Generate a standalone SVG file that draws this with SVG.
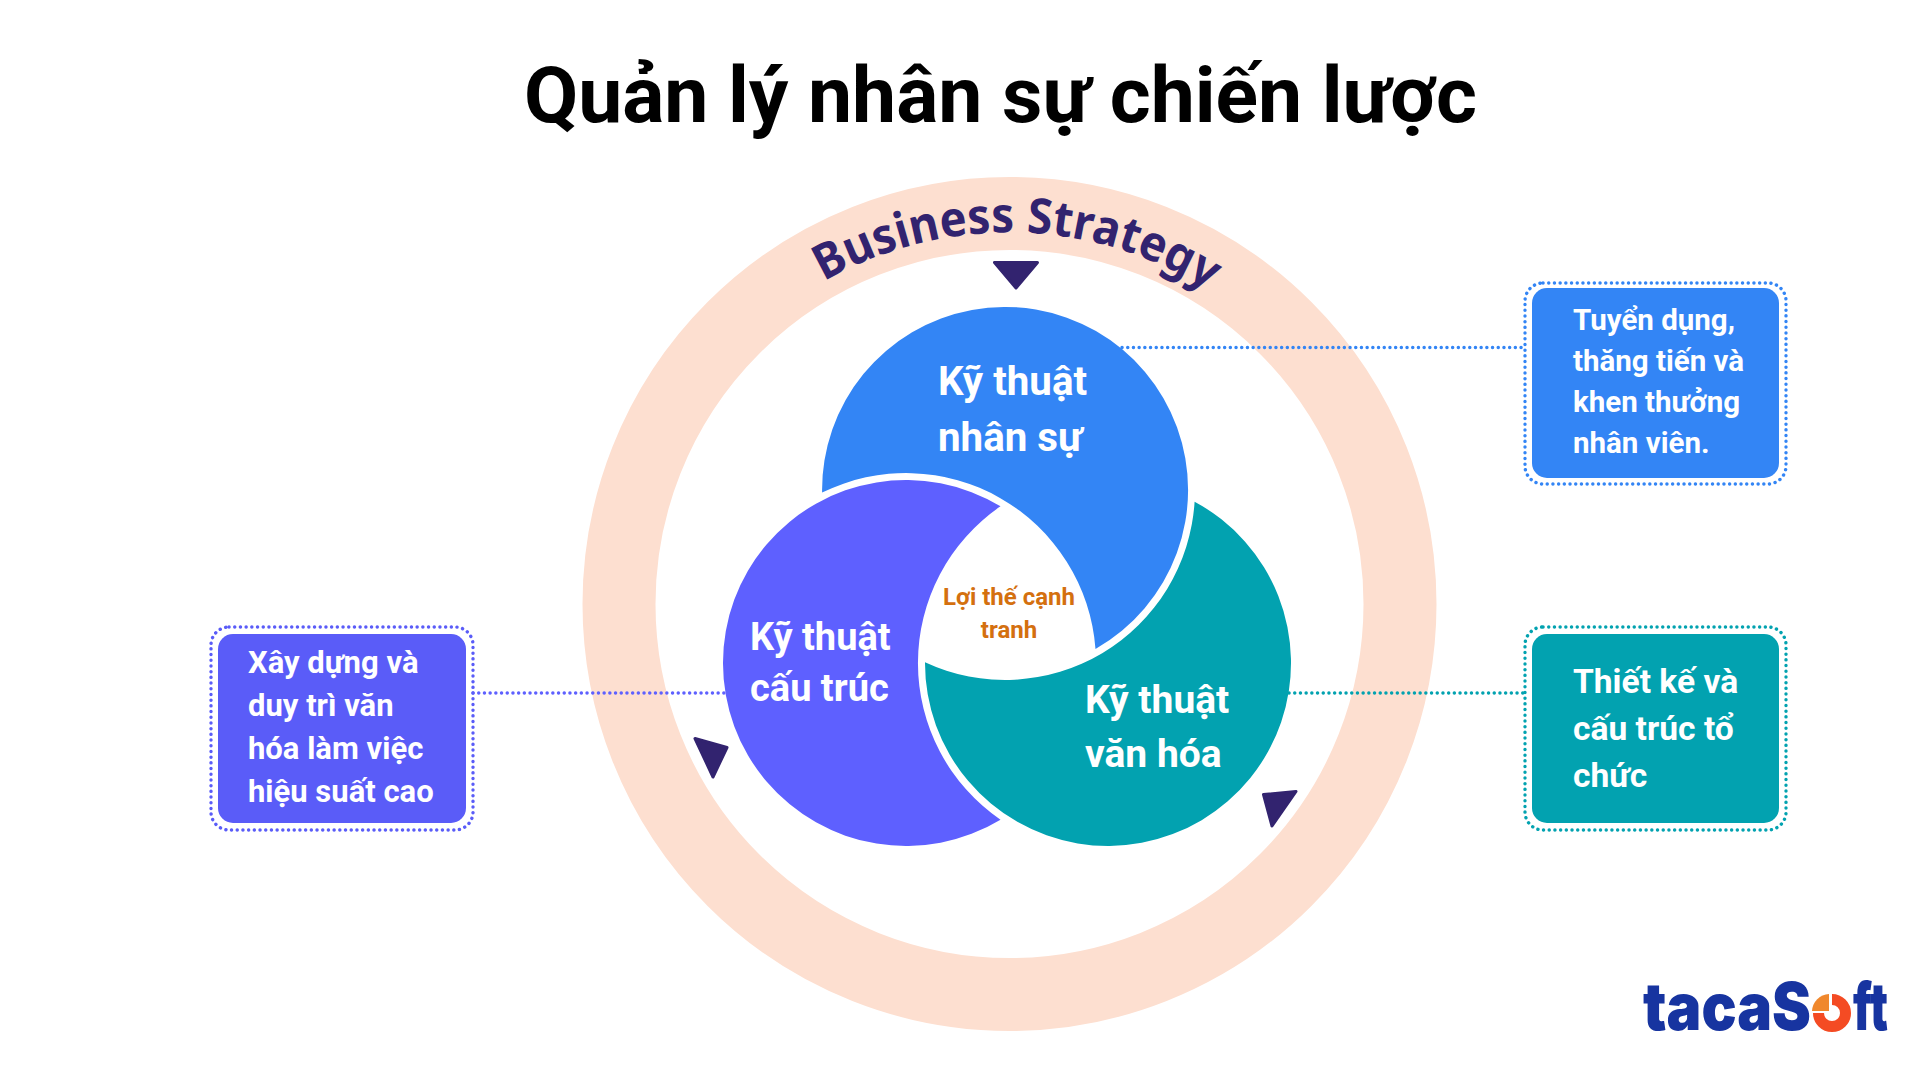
<svg xmlns="http://www.w3.org/2000/svg" width="1920" height="1080" viewBox="0 0 1920 1080">
<style>
text{font-family:Roboto,"Noto Sans",sans-serif;font-weight:700}
.lab{fill:#fff;font-size:39px}
.box{fill:#fff;font-size:29.5px}
.dot{fill:none;stroke-width:3.4;stroke-linecap:round;stroke-dasharray:0.1 5.6}
.tri{fill:#32236F;stroke:#32236F;stroke-width:3;stroke-linejoin:round}
.logo{font-weight:900;font-family:Inter,Roboto,sans-serif;font-size:66px;fill:#1734A0}
</style>
<defs><path id="arc" d="M824 281.600A372 372 0 0 1 1206 288.900"/></defs>
<rect width="1920" height="1080" fill="#fff"/>
<text x="1000.500" y="122" font-size="78.700" text-anchor="middle" fill="#000" id="title">Quản lý nhân sự chiến lược</text>
<g id="ring">
<circle cx="1009.500" cy="604" r="390.500" fill="none" stroke="#FDDFD0" stroke-width="73"/>
<text font-size="49" fill="#32236F" style="font-family:'Noto Sans',sans-serif;font-weight:700"><textPath href="#arc" textLength="404" lengthAdjust="spacingAndGlyphs">Business Strategy</textPath></text>
<polygon class="tri" points="994.500,262.500 1037.500,262.500 1016,288"/>
<polygon class="tri" points="695,738.500 727,747.500 713,777"/>
<polygon class="tri" points="1263.500,794.500 1296,791.500 1272,826"/>
</g>
<g id="connectors">
<line class="dot" x1="1122" y1="347.500" x2="1525" y2="347.500" stroke="#3385F5"/>
<line class="dot" x1="473" y1="693" x2="726" y2="693" stroke="#5E60FF"/>
<line class="dot" x1="1289" y1="693" x2="1524" y2="693" stroke="#02A2B0"/>
</g>
<g id="node-nhan-su">
<path d="M822.100 492.600A183 183 0 1 1 1095.500 649A190 190 0 0 0 822.100 492.600Z" fill="#3385F5"/>
<text class="lab" style="font-size:40.300px" x="938" y="395">Kỹ thuật</text><text class="lab" style="font-size:40.300px" x="938" y="451">nhân sự</text>
</g>
<g id="node-cau-truc">
<path d="M1000.500 506.300A183 183 0 1 0 1000.500 819.700A190 190 0 0 1 1000.500 506.300Z" fill="#5E60FF"/>
<text class="lab" style="font-size:38px" x="750" y="650">Kỹ thuật</text><text class="lab" style="font-size:38px" x="750" y="701">cấu trúc</text>
</g>
<g id="node-van-hoa">
<path d="M1194.600 501.700A183 183 0 1 1 925 662.300A190 190 0 0 0 1194.600 501.700Z" fill="#02A2B0"/>
<text class="lab" x="1085" y="713">Kỹ thuật</text><text class="lab" x="1085" y="767">văn hóa</text>
</g>
<g id="node-center" fill="#D4700F" font-size="24" text-anchor="middle">
<text x="1009" y="605">Lợi thế cạnh</text><text x="1009" y="638">tranh</text>
</g>
<g id="box-blue">
<rect class="dot" x="1525" y="283" width="261" height="201" rx="18" stroke="#3385F5"/>
<rect x="1532" y="288" width="247" height="190" rx="15" fill="#3385F5"/>
<text class="box" x="1573" y="330">Tuyển dụng,</text><text class="box" x="1573" y="371">thăng tiến và</text><text class="box" x="1573" y="412">khen thưởng</text><text class="box" x="1573" y="453">nhân viên.</text>
</g>
<g id="box-purple">
<rect class="dot" x="211" y="627" width="262" height="203" rx="18" stroke="#5A5CF8"/>
<rect x="218" y="634" width="248" height="189" rx="15" fill="#5A5CF8"/>
<text class="box" style="font-size:31px" x="248" y="673">Xây dựng và</text><text class="box" style="font-size:31px" x="248" y="716">duy trì văn</text><text class="box" style="font-size:31px" x="248" y="759">hóa làm việc</text><text class="box" style="font-size:31px" x="248" y="802">hiệu suất cao</text>
</g>
<g id="box-teal">
<rect class="dot" x="1525" y="627" width="261" height="203" rx="18" stroke="#02A2B0"/>
<rect x="1532" y="634" width="247" height="189" rx="15" fill="#02A2B0"/>
<text class="box" style="font-size:33.600px" x="1573" y="693">Thiết kế và</text><text class="box" style="font-size:33.600px" x="1573" y="740">cấu trúc tổ</text><text class="box" style="font-size:33.600px" x="1573" y="787">chức</text>
</g>
<g id="logo">
<text class="logo" x="1643" y="1030" textLength="168" lengthAdjust="spacingAndGlyphs">tacaS</text>
<text class="logo" x="1813" y="1030" textLength="38" lengthAdjust="spacingAndGlyphs" fill-opacity="0" style="fill-opacity:0">o</text>
<text class="logo" x="1853" y="1030" textLength="35" lengthAdjust="spacingAndGlyphs">ft</text>
<path d="M1832 999.500A13.500 13.500 0 1 1 1818.500 1013" fill="none" stroke="#F44B23" stroke-width="11"/>
<path d="M1829 1011V994A18 18 0 0 0 1812 1011Z" fill="#F0882D"/>
</g>
</svg>
